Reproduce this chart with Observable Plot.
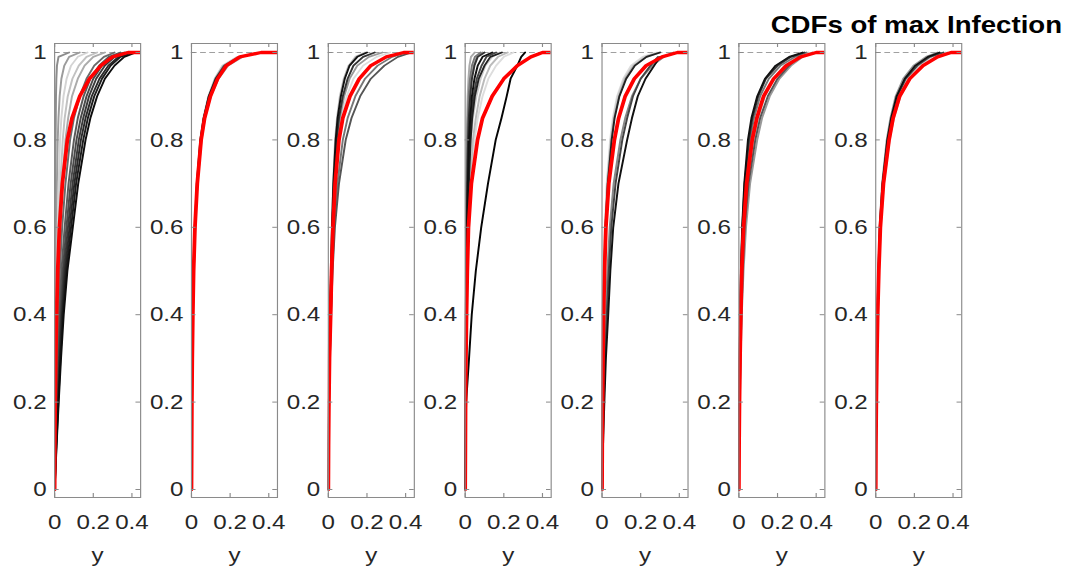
<!DOCTYPE html>
<html><head><meta charset="utf-8">
<script src="https://cdn.jsdelivr.net/npm/d3@7"></script>
<script src="https://cdn.jsdelivr.net/npm/@observablehq/plot@0.6"></script>
<style>
html,body{margin:0;padding:0;background:#fff;width:1071px;height:570px;overflow:hidden;}
#wrap{position:absolute;left:0;top:0;width:931.3px;height:570px;transform:scaleX(1.15);transform-origin:0 0;}
#wrap svg{position:absolute;top:0;background:transparent;overflow:visible;}
#title{position:absolute;right:7.8px;top:13px;font:bold 24px "Liberation Sans",Arial,sans-serif;line-height:1;color:#000;white-space:nowrap;}
</style></head><body><div id="wrap"></div>
<script>
// ---- data ----
const chartTitle = "CDFs of max Infection";
const xLabel = "y";
const xTicks = [0, 0.2, 0.4];
const xTickLabels = ["0", "0.2", "0.4"];
const yTicks = [0, 0.2, 0.4, 0.6, 0.8, 1];
const yTickLabels = ["0", "0.2", "0.4", "0.6", "0.8", "1"];
// cumulative probability levels; x values below are read at these levels
const yLevels = [0, 0.1, 0.2, 0.3, 0.4, 0.5, 0.6, 0.7, 0.8, 0.85, 0.9, 0.94, 0.97, 0.99, 1, 1];

const redCurves = [
  [0,0.001,0.003,0.006,0.01,0.016,0.025,0.04,0.066,0.09,0.13,0.18,0.24,0.3,0.38,0.45],
  [0,0.001,0.002,0.004,0.007,0.011,0.018,0.03,0.05,0.068,0.098,0.135,0.18,0.25,0.36,0.45],
  [0,0.001,0.003,0.006,0.012,0.017,0.024,0.035,0.055,0.075,0.112,0.16,0.22,0.3,0.39,0.45],
  [0,0.001,0.002,0.004,0.007,0.011,0.017,0.032,0.064,0.09,0.14,0.2,0.27,0.34,0.4,0.45],
  [0,0.001,0.003,0.005,0.008,0.013,0.02,0.035,0.064,0.086,0.12,0.167,0.228,0.31,0.39,0.45],
  [0,0.001,0.003,0.006,0.01,0.015,0.024,0.04,0.069,0.093,0.128,0.18,0.245,0.32,0.4,0.45],
  [0,0.001,0.003,0.006,0.01,0.016,0.024,0.04,0.069,0.09,0.124,0.176,0.245,0.32,0.39,0.45]
];

const grayCurves1 = [
  [0,0.001,0.001,0.002,0.002,0.003,0.003,0.004,0.005,0.006,0.007,0.009,0.012,0.02,0.075],
  [0,0.001,0.002,0.003,0.005,0.007,0.009,0.012,0.016,0.02,0.026,0.035,0.05,0.075,0.13],
  [0,0.002,0.004,0.006,0.009,0.012,0.016,0.021,0.028,0.035,0.046,0.062,0.085,0.12,0.17],
  [0,0.002,0.005,0.008,0.012,0.016,0.022,0.03,0.042,0.052,0.068,0.092,0.125,0.165,0.22],
  [0,0.003,0.006,0.01,0.015,0.021,0.029,0.04,0.056,0.07,0.09,0.12,0.155,0.2,0.26],
  [0,0.004,0.008,0.013,0.019,0.027,0.039,0.056,0.08,0.1,0.13,0.165,0.205,0.255,0.31],
  [0,0.005,0.011,0.017,0.025,0.035,0.052,0.072,0.1,0.12,0.15,0.185,0.23,0.28,0.34],
  [0,0.006,0.013,0.021,0.03,0.042,0.061,0.083,0.113,0.135,0.165,0.2,0.245,0.3,0.36],
  [0,0.007,0.015,0.024,0.034,0.048,0.069,0.093,0.125,0.148,0.178,0.215,0.26,0.31,0.37],
  [0,0.008,0.017,0.027,0.038,0.054,0.077,0.102,0.136,0.16,0.192,0.232,0.278,0.33,0.39],
  [0,0.009,0.019,0.03,0.042,0.06,0.085,0.111,0.148,0.172,0.205,0.245,0.29,0.34,0.4],
  [0,0.01,0.021,0.033,0.047,0.066,0.094,0.122,0.16,0.185,0.22,0.26,0.31,0.36,0.42]
];
const grayCurves2 = [
  [0,0.001,0.002,0.004,0.007,0.011,0.017,0.027,0.045,0.061,0.087,0.12,0.16,0.235,null],
  [0,0.001,0.002,0.004,0.007,0.012,0.019,0.031,0.052,0.07,0.1,0.14,0.19,0.265,null],
  [0,0.001,0.003,0.005,0.008,0.012,0.019,0.029,0.048,0.064,0.09,0.124,0.168,0.245,null],
  [0,0.001,0.002,0.004,0.007,0.011,0.018,0.028,0.046,0.063,0.09,0.127,0.175,0.255,null]
];
const grayCurves3 = [
  [0,0.001,0.003,0.006,0.011,0.016,0.024,0.035,0.052,0.068,0.095,0.13,0.18,0.25,0.32],
  [0,0.001,0.003,0.005,0.009,0.013,0.018,0.025,0.035,0.045,0.06,0.08,0.105,0.14,0.19],
  [0,0.001,0.003,0.006,0.01,0.015,0.022,0.031,0.046,0.06,0.082,0.11,0.15,0.21,0.28],
  [0,0.002,0.004,0.008,0.013,0.02,0.03,0.047,0.075,0.1,0.14,0.19,0.255,0.33,0.4],
  [0,0.002,0.004,0.008,0.014,0.022,0.034,0.055,0.09,0.12,0.165,0.22,0.29,0.36,0.43],
  [0,0.001,0.003,0.006,0.01,0.015,0.021,0.029,0.043,0.055,0.075,0.1,0.13,0.18,0.24],
  [0,0.001,0.003,0.006,0.01,0.014,0.019,0.026,0.038,0.048,0.065,0.085,0.11,0.15,0.2]
];
const grayCurves4 = [
  [0,0.001,0.002,0.005,0.008,0.013,0.02,0.03,0.048,0.065,0.09,0.12,0.16,0.2,0.25],
  [0,0.001,0.002,0.004,0.006,0.01,0.016,0.025,0.04,0.055,0.075,0.1,0.13,0.17,0.22],
  [0,0.001,0.002,0.003,0.005,0.008,0.012,0.019,0.03,0.04,0.058,0.08,0.105,0.14,0.18],
  [0,0,0.001,0.002,0.003,0.004,0.005,0.006,0.008,0.01,0.013,0.017,0.022,0.03,0.05],
  [0,0.001,0.001,0.002,0.003,0.005,0.007,0.01,0.014,0.018,0.024,0.032,0.045,0.06,0.09],
  [0,0.001,0.001,0.002,0.003,0.004,0.006,0.008,0.011,0.014,0.018,0.025,0.035,0.05,0.08],
  [0,0.001,0.002,0.003,0.005,0.008,0.011,0.016,0.024,0.031,0.043,0.06,0.085,0.11,0.16],
  [0,0.001,0.002,0.003,0.004,0.006,0.008,0.011,0.015,0.019,0.026,0.035,0.048,0.065,0.1],
  [0,0.001,0.002,0.004,0.006,0.009,0.013,0.019,0.028,0.036,0.05,0.07,0.1,0.13,0.19],
  [0,0.001,0.002,0.003,0.005,0.007,0.01,0.014,0.02,0.026,0.035,0.048,0.065,0.09,0.14],
  [0,0.001,0.005,0.02,0.034,0.055,0.083,0.118,0.158,0.188,0.215,0.235,0.27,0.29,0.31]
];
const grayCurves5 = [
  [0,0.001,0.002,0.004,0.006,0.01,0.015,0.024,0.042,0.056,0.078,0.11,0.15,0.21,0.28],
  [0,0.001,0.002,0.004,0.007,0.011,0.016,0.026,0.045,0.06,0.082,0.115,0.16,0.22,0.29],
  [0,0.001,0.003,0.005,0.008,0.012,0.018,0.028,0.048,0.063,0.088,0.12,0.165,0.23,0.3],
  [0,0.003,0.007,0.012,0.019,0.028,0.04,0.06,0.095,0.12,0.155,0.2,0.26,0.32,0.37],
  [0,0.001,0.003,0.005,0.008,0.012,0.018,0.03,0.05,0.065,0.09,0.125,0.17,0.23,0.3],
  [0,0.004,0.009,0.016,0.025,0.035,0.048,0.07,0.105,0.13,0.16,0.2,0.25,0.29,null],
  [0,0.005,0.012,0.02,0.032,0.043,0.058,0.085,0.13,0.155,0.185,0.225,0.27,0.3,null]
];
const grayCurves6 = [
  [0,0.002,0.004,0.008,0.013,0.02,0.032,0.05,0.08,0.1,0.135,0.18,0.235,0.3,0.36],
  [0,0.002,0.005,0.009,0.015,0.024,0.037,0.058,0.095,0.12,0.16,0.21,0.27,0.33,0.38],
  [0,0.001,0.002,0.005,0.008,0.013,0.02,0.033,0.058,0.078,0.11,0.155,0.215,0.29,0.35],
  [0,0.002,0.004,0.008,0.013,0.02,0.03,0.05,0.085,0.11,0.15,0.2,0.26,0.31,null],
  [0,0.001,0.002,0.004,0.007,0.011,0.018,0.03,0.052,0.07,0.1,0.14,0.2,0.27,0.34],
  [0,0.001,0.002,0.004,0.007,0.011,0.017,0.028,0.047,0.065,0.095,0.135,0.19,0.26,0.33]
];
const grayCurves7 = [
  [0,0.002,0.004,0.007,0.011,0.017,0.026,0.042,0.072,0.094,0.128,0.178,0.24,0.31,0.37],
  [0,0.001,0.003,0.006,0.01,0.016,0.025,0.039,0.066,0.087,0.117,0.162,0.225,0.29,0.36],
  [0,0.001,0.002,0.005,0.009,0.014,0.02,0.033,0.057,0.076,0.103,0.142,0.195,0.26,0.32],
  [0,0.001,0.003,0.006,0.01,0.015,0.023,0.037,0.063,0.083,0.112,0.155,0.215,0.28,0.35],
  [0,0.001,0.003,0.005,0.009,0.014,0.021,0.035,0.06,0.08,0.108,0.15,0.205,0.27,0.33]
];
const grayCurves = [grayCurves1, grayCurves2, grayCurves3, grayCurves4, grayCurves5, grayCurves6, grayCurves7];

// ---- styles ----
const grayShades = [
  ["#8c8c8c","#9c9c9c","#d4d4d4","#c2c2c2","#ababab","#6a6a6a","#5a5a5a","#4a4a4a","#3a3a3a","#2a2a2a","#1c1c1c","#0d0d0d"],
  ["#cccccc","#999999","#555555","#151515"],
  ["#dddddd","#bbbbbb","#999999","#777777","#555555","#333333","#111111"],
  ["#dddddd","#bbbbbb","#cccccc","#aaaaaa","#999999","#777777","#444444","#333333","#222222","#111111","#050505"],
  ["#dddddd","#cccccc","#aaaaaa","#888888","#222222","#444444","#111111"],
  ["#cccccc","#999999","#777777","#555555","#333333","#111111"],
  ["#bbbbbb","#cccccc","#999999","#444444","#111111"]
];
const S = 1.15;            // horizontal stretch of the original figure
const FW = 86 / S;         // frame width (unscaled)
const ML = 46, MR = 2, MT = 43, MB = 73, H = 570;
const axisColor = "#8a8a8a", textColor = "#262626";

const wrap = document.getElementById("wrap");
const rows = xs => xs.map((x, k) => ({x, y: yLevels[k]})).filter(d => d.x != null);

for (let i = 0; i < 7; i++) {
  const fh = H - MT - MB;
  const marks = [
    Plot.ruleY([1], {stroke: "#a0a0a0", strokeWidth: 0.9, strokeDasharray: "5,3"}),
    ...grayCurves[i].map((g, j) => Plot.line(rows(g), {x: "x", y: "y", stroke: grayShades[i][j], strokeWidth: 1.7, clip: true})),
    Plot.line(rows(redCurves[i]), {x: "x", y: "y", stroke: "#ff0000", strokeWidth: 3.3, clip: true}),
    Plot.frame({stroke: axisColor}),
    Plot.tickY(yTicks, {insetRight: FW - 4, stroke: axisColor}),
    Plot.tickY(yTicks, {insetLeft: FW - 4, stroke: axisColor}),
    Plot.tickX(xTicks, {insetTop: fh - 4, stroke: axisColor}),
    Plot.tickX(xTicks, {insetBottom: fh - 4, stroke: axisColor}),
    Plot.axisY({ticks: yTicks, tickSize: 0, tickPadding: 7, label: null,
      tickFormat: d => yTickLabels[yTicks.indexOf(d)], fill: textColor}),
    Plot.axisX({ticks: xTicks, tickSize: 0, tickPadding: 17, label: null,
      tickFormat: d => xTickLabels[xTicks.indexOf(d)], fill: textColor}),
    Plot.text([xLabel], {text: d => d, frameAnchor: "bottom", dy: 58, lineAnchor: "middle", fill: textColor})
  ];
  const svg = Plot.plot({
    width: ML + FW + MR, height: H,
    marginLeft: ML, marginRight: MR, marginTop: MT, marginBottom: MB,
    x: {domain: [0, 0.445]},
    y: {domain: [-0.0183, 1.0206]},
    style: {fontFamily: '"Liberation Sans", Arial, sans-serif', fontSize: "21px", color: textColor, background: "transparent", overflow: "visible"},
    marks
  });
  svg.style.left = ((53.5 + 137 * i) / S - ML) + "px";
  wrap.appendChild(svg);
}
const t = document.createElement("div");
t.id = "title";
t.textContent = chartTitle;
wrap.appendChild(t);
</script></body></html>
